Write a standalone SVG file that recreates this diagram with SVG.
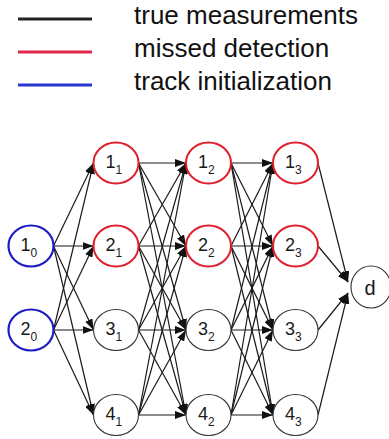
<svg xmlns="http://www.w3.org/2000/svg" width="389" height="439" viewBox="0 0 389 439">
  <style>
    .legend { font-family: "Liberation Sans", Arial, sans-serif; font-size: 26px; fill: #111111; }
    .lbl { font-family: "Liberation Sans", Arial, sans-serif; font-size: 18px; fill: #1a1a1a; }
    .sub { font-size: 12px; }
    .sink { font-size: 20px; }
    .node { fill: #ffffff; }
    .meas { stroke: #333333; stroke-width: 1.1; }
    .miss { stroke: #e01f2d; stroke-width: 2; }
    .init { stroke: #1c1cc4; stroke-width: 2.2; }
    .edge { stroke: #1a1a1a; stroke-width: 1.2; marker-end: url(#arrow); }
  </style>
  <defs>
    <marker id="arrow" viewBox="0 0 11 8" refX="11" refY="4" markerWidth="11" markerHeight="8" markerUnits="userSpaceOnUse" orient="auto">
      <path d="M0,0 L11,4 L0,8 z" fill="#111111"/>
    </marker>
  </defs>

  <!-- legend -->
  <g id="legend">
    <line x1="18" y1="19" x2="92" y2="19" stroke="#222222" stroke-width="3"/>
    <line x1="18" y1="52" x2="92" y2="52" stroke="#e0284a" stroke-width="3"/>
    <line x1="18" y1="85" x2="92" y2="85" stroke="#2a36d0" stroke-width="3"/>
    <text class="legend" x="134" y="24">true measurements</text>
    <text class="legend" x="134" y="57">missed detection</text>
    <text class="legend" x="134" y="90">track initialization</text>
  </g>

  <!-- connectors -->
  <g id="edges">
    <!-- stage 0 -> stage 1 -->
    <line class="edge" x1="53.5" y1="246" x2="93.5" y2="163"/>
    <line class="edge" x1="53.5" y1="246" x2="93.5" y2="246"/>
    <line class="edge" x1="53.5" y1="246" x2="93.5" y2="330"/>
    <line class="edge" x1="53.5" y1="246" x2="93.5" y2="415"/>
    <line class="edge" x1="53.5" y1="330" x2="93.5" y2="163"/>
    <line class="edge" x1="53.5" y1="330" x2="93.5" y2="246"/>
    <line class="edge" x1="53.5" y1="330" x2="93.5" y2="330"/>
    <line class="edge" x1="53.5" y1="330" x2="93.5" y2="415"/>
    <!-- stage 1 -> stage 2 -->
    <line class="edge" x1="138.5" y1="163" x2="186" y2="163"/>
    <line class="edge" x1="138.5" y1="163" x2="186" y2="246"/>
    <line class="edge" x1="138.5" y1="163" x2="186" y2="330"/>
    <line class="edge" x1="138.5" y1="163" x2="186" y2="415"/>
    <line class="edge" x1="138.5" y1="246" x2="186" y2="163"/>
    <line class="edge" x1="138.5" y1="246" x2="186" y2="246"/>
    <line class="edge" x1="138.5" y1="246" x2="186" y2="330"/>
    <line class="edge" x1="138.5" y1="246" x2="186" y2="415"/>
    <line class="edge" x1="138.5" y1="330" x2="186" y2="163"/>
    <line class="edge" x1="138.5" y1="330" x2="186" y2="246"/>
    <line class="edge" x1="138.5" y1="330" x2="186" y2="330"/>
    <line class="edge" x1="138.5" y1="330" x2="186" y2="415"/>
    <line class="edge" x1="138.5" y1="415" x2="186" y2="163"/>
    <line class="edge" x1="138.5" y1="415" x2="186" y2="246"/>
    <line class="edge" x1="138.5" y1="415" x2="186" y2="330"/>
    <line class="edge" x1="138.5" y1="415" x2="186" y2="415"/>
    <!-- stage 2 -> stage 3 -->
    <line class="edge" x1="231" y1="163" x2="273" y2="163"/>
    <line class="edge" x1="231" y1="163" x2="273" y2="246"/>
    <line class="edge" x1="231" y1="163" x2="273" y2="330"/>
    <line class="edge" x1="231" y1="163" x2="273" y2="415"/>
    <line class="edge" x1="231" y1="246" x2="273" y2="163"/>
    <line class="edge" x1="231" y1="246" x2="273" y2="246"/>
    <line class="edge" x1="231" y1="246" x2="273" y2="330"/>
    <line class="edge" x1="231" y1="246" x2="273" y2="415"/>
    <line class="edge" x1="231" y1="330" x2="273" y2="163"/>
    <line class="edge" x1="231" y1="330" x2="273" y2="246"/>
    <line class="edge" x1="231" y1="330" x2="273" y2="330"/>
    <line class="edge" x1="231" y1="330" x2="273" y2="415"/>
    <line class="edge" x1="231" y1="415" x2="273" y2="163"/>
    <line class="edge" x1="231" y1="415" x2="273" y2="246"/>
    <line class="edge" x1="231" y1="415" x2="273" y2="330"/>
    <line class="edge" x1="231" y1="415" x2="273" y2="415"/>
    <!-- stage 3 -> d -->
    <line class="edge" x1="318" y1="163" x2="348" y2="282"/>
    <line class="edge" x1="318" y1="246" x2="348" y2="282"/>
    <line class="edge" x1="318" y1="330" x2="348" y2="293"/>
    <line class="edge" x1="318" y1="415" x2="348" y2="293"/>
  </g>

  <!-- stage 0 -->
  <g id="n1_0"><ellipse class="node init" cx="31" cy="246" rx="22.5" ry="20.5"/>
    <text class="lbl" x="20.5" y="251">1<tspan class="sub" y="256.5">0</tspan></text></g>
  <g id="n2_0"><ellipse class="node init" cx="31" cy="330" rx="22.5" ry="20.5"/>
    <text class="lbl" x="20.5" y="335">2<tspan class="sub" y="340.5">0</tspan></text></g>

  <!-- stage 1 -->
  <g id="n1_1"><ellipse class="node miss" cx="116" cy="163" rx="22.5" ry="20.5"/>
    <text class="lbl" x="105.5" y="168">1<tspan class="sub" y="173.5">1</tspan></text></g>
  <g id="n2_1"><ellipse class="node miss" cx="116" cy="246" rx="22.5" ry="20.5"/>
    <text class="lbl" x="105.5" y="251">2<tspan class="sub" y="256.5">1</tspan></text></g>
  <g id="n3_1"><ellipse class="node meas" cx="116" cy="330" rx="22.5" ry="20.5"/>
    <text class="lbl" x="105.5" y="335">3<tspan class="sub" y="340.5">1</tspan></text></g>
  <g id="n4_1"><ellipse class="node meas" cx="116" cy="415" rx="22.5" ry="20.5"/>
    <text class="lbl" x="105.5" y="420">4<tspan class="sub" y="425.5">1</tspan></text></g>

  <!-- stage 2 -->
  <g id="n1_2"><ellipse class="node miss" cx="208.5" cy="163" rx="22.5" ry="20.5"/>
    <text class="lbl" x="198" y="168">1<tspan class="sub" y="173.5">2</tspan></text></g>
  <g id="n2_2"><ellipse class="node miss" cx="208.5" cy="246" rx="22.5" ry="20.5"/>
    <text class="lbl" x="198" y="251">2<tspan class="sub" y="256.5">2</tspan></text></g>
  <g id="n3_2"><ellipse class="node meas" cx="208.5" cy="330" rx="22.5" ry="20.5"/>
    <text class="lbl" x="198" y="335">3<tspan class="sub" y="340.5">2</tspan></text></g>
  <g id="n4_2"><ellipse class="node meas" cx="208.5" cy="415" rx="22.5" ry="20.5"/>
    <text class="lbl" x="198" y="420">4<tspan class="sub" y="425.5">2</tspan></text></g>

  <!-- stage 3 -->
  <g id="n1_3"><ellipse class="node miss" cx="295.5" cy="163" rx="22.5" ry="20.5"/>
    <text class="lbl" x="285" y="168">1<tspan class="sub" y="173.5">3</tspan></text></g>
  <g id="n2_3"><ellipse class="node miss" cx="295.5" cy="246" rx="22.5" ry="20.5"/>
    <text class="lbl" x="285" y="251">2<tspan class="sub" y="256.5">3</tspan></text></g>
  <g id="n3_3"><ellipse class="node meas" cx="295.5" cy="330" rx="22.5" ry="20.5"/>
    <text class="lbl" x="285" y="335">3<tspan class="sub" y="340.5">3</tspan></text></g>
  <g id="n4_3"><ellipse class="node meas" cx="295.5" cy="415" rx="22.5" ry="20.5"/>
    <text class="lbl" x="285" y="420">4<tspan class="sub" y="425.5">3</tspan></text></g>

  <!-- sink -->
  <g id="nd"><ellipse class="node meas" cx="371" cy="287" rx="20" ry="21"/>
    <text class="lbl sink" x="370" y="294.5" text-anchor="middle">d</text></g>
</svg>
